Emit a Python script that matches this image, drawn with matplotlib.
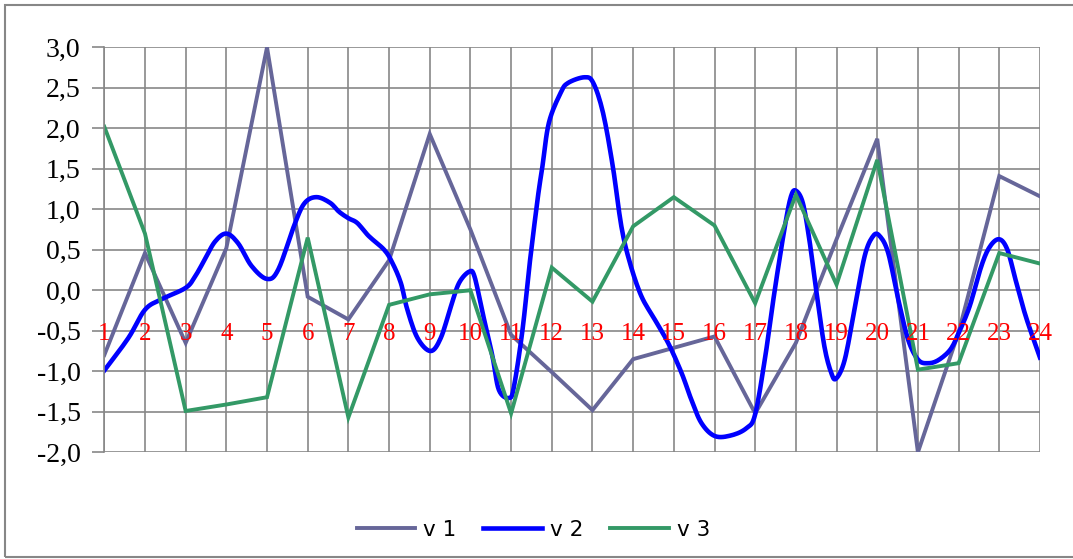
import numpy as np
import matplotlib.pyplot as plt
from matplotlib.ticker import FuncFormatter
from matplotlib.patches import Rectangle

# categories and series values
cats = np.arange(1, 25)
v1 = [-0.80, 0.46, -0.65, 0.52, 3.00, -0.08, -0.36, 0.37, 1.93, 0.75, -0.55, -1.01,
      -1.48, -0.85, -0.71, -0.57, -1.52, -0.65, 0.63, 1.87, -2.00, -0.52, 1.41, 1.16]
v3 = [2.02, 0.70, -1.49, -1.41, -1.32, 0.65, -1.57, -0.18, -0.05, 0.00, -1.52, 0.28,
      -0.14, 0.79, 1.15, 0.80, -0.16, 1.18, 0.07, 1.61, -0.98, -0.90, 0.46, 0.33]

# v2 is a denser smoothed series (x in category units)
v2_x = [1.00, 1.59, 2.00, 2.41, 3.00, 3.23, 3.47, 3.72, 4.00, 4.29, 4.62, 5.00,
        5.28, 5.69, 5.93, 6.22, 6.55, 6.77, 7.00, 7.22, 7.50, 7.88, 8.08, 8.29,
        8.45, 8.70, 9.02, 9.27, 9.52, 9.72, 9.97, 10.10, 10.30, 10.54, 10.70, 10.95,
        11.07, 11.28, 11.44, 11.65, 11.77, 11.93, 12.22, 12.40, 12.81, 13.02, 13.26,
        13.50, 13.71, 13.92, 14.20, 14.53, 14.86, 15.19, 15.43, 15.68, 16.01, 16.42,
        16.79, 17.00, 17.25, 17.48, 17.73, 17.88, 18.00, 18.17, 18.33, 18.50, 18.70,
        18.87, 18.99, 19.20, 19.44, 19.69, 19.90, 20.06, 20.27, 20.52, 20.76, 21.01,
        21.26, 21.51, 21.80, 22.00, 22.27, 22.56, 22.77, 23.00, 23.20, 23.40, 23.65,
        24.00]
v2_y = [-0.99, -0.59, -0.24, -0.11, 0.03, 0.17, 0.38, 0.60, 0.70, 0.58, 0.30, 0.14,
        0.26, 0.83, 1.08, 1.15, 1.08, 0.97, 0.89, 0.83, 0.67, 0.50, 0.34, 0.09,
        -0.24, -0.59, -0.75, -0.59, -0.20, 0.09, 0.23, 0.17, -0.28, -0.81, -1.23, -1.33,
        -1.19, -0.49, 0.26, 1.12, 1.53, 2.07, 2.44, 2.56, 2.63, 2.56, 2.19,
        1.53, 0.79, 0.34, -0.07, -0.36, -0.65, -1.02, -1.35, -1.64, -1.80, -1.79,
        -1.70, -1.53, -0.81, 0.00, 0.79, 1.16, 1.23, 1.08, 0.63, 0.00, -0.69,
        -1.02, -1.09, -0.86, -0.24, 0.42, 0.67, 0.67, 0.46, -0.12, -0.61, -0.86,
        -0.90, -0.86, -0.73, -0.53, -0.20, 0.30, 0.54, 0.63, 0.50, 0.13, -0.32,
        -0.83]


def catmull_rom(x, y, n=8):
    x = np.asarray(x, float)
    y = np.asarray(y, float)
    px = np.concatenate([[2 * x[0] - x[1]], x, [2 * x[-1] - x[-2]]])
    py = np.concatenate([[2 * y[0] - y[1]], y, [2 * y[-1] - y[-2]]])
    t = np.linspace(0, 1, n, endpoint=False)
    xs, ys = [], []
    for i in range(1, len(px) - 2):
        for p, out in ((px, xs), (py, ys)):
            p0, p1, p2, p3 = p[i - 1], p[i], p[i + 1], p[i + 2]
            out.extend(0.5 * (2 * p1 + (-p0 + p2) * t
                              + (2 * p0 - 5 * p1 + 4 * p2 - p3) * t ** 2
                              + (-p0 + 3 * p1 - 3 * p2 + p3) * t ** 3))
    xs.append(x[-1])
    ys.append(y[-1])
    return np.array(xs), np.array(ys)


fig = plt.figure(figsize=(10.73, 5.59), dpi=100)
ax = fig.add_axes([0.0972, 0.1909, 0.8720, 0.7245])

grid_c = '#878787'
ax.plot(cats, v1, color='#666699', lw=2.8, label='v 1', solid_joinstyle='miter')
sx, sy = catmull_rom(v2_x, v2_y)
ax.plot(sx, sy, color='#0000FF', lw=3.3, label='v 2')
ax.plot(cats, v3, color='#339966', lw=2.8, label='v 3', solid_joinstyle='miter')

ax.set_xlim(1, 24)
ax.set_ylim(-2, 3)
ax.set_xticks(cats)
ax.set_yticks(np.arange(-2, 3.01, 0.5))
ax.grid(True, color=grid_c, lw=1.2)
ax.set_axisbelow(True)
ax.tick_params(axis='x', length=0, labelbottom=False)
ax.tick_params(axis='y', length=9, width=1.2, color=grid_c, pad=8, labelsize=20)
ax.yaxis.set_major_formatter(FuncFormatter(lambda v, p: f'{v:.1f}'.replace('.', ',')))
for lab in ax.get_yticklabels():
    lab.set_fontfamily('Liberation Serif')
for s in ['top', 'right', 'bottom']:
    ax.spines[s].set_visible(False)
ax.spines['left'].set_color(grid_c)
ax.spines['left'].set_linewidth(1.2)

# red category labels sit just under the zero line
for c in cats:
    ax.text(c, -0.61, str(c), color='red', ha='center', va='baseline',
            fontsize=18, family='Liberation Serif')

fig.legend(loc='center', bbox_to_anchor=(533.5 / 1073, 1 - 530 / 559), ncol=3,
           frameon=False, fontsize=15.5, handlelength=2.7, handletextpad=0.4,
           columnspacing=1.25)

fig.patches.append(Rectangle((5 / 1073, 2 / 559), 1.1, 552 / 559, transform=fig.transFigure,
                             fill=False, edgecolor=grid_c, lw=1.5))

fig.savefig('out.png', dpi=100)
